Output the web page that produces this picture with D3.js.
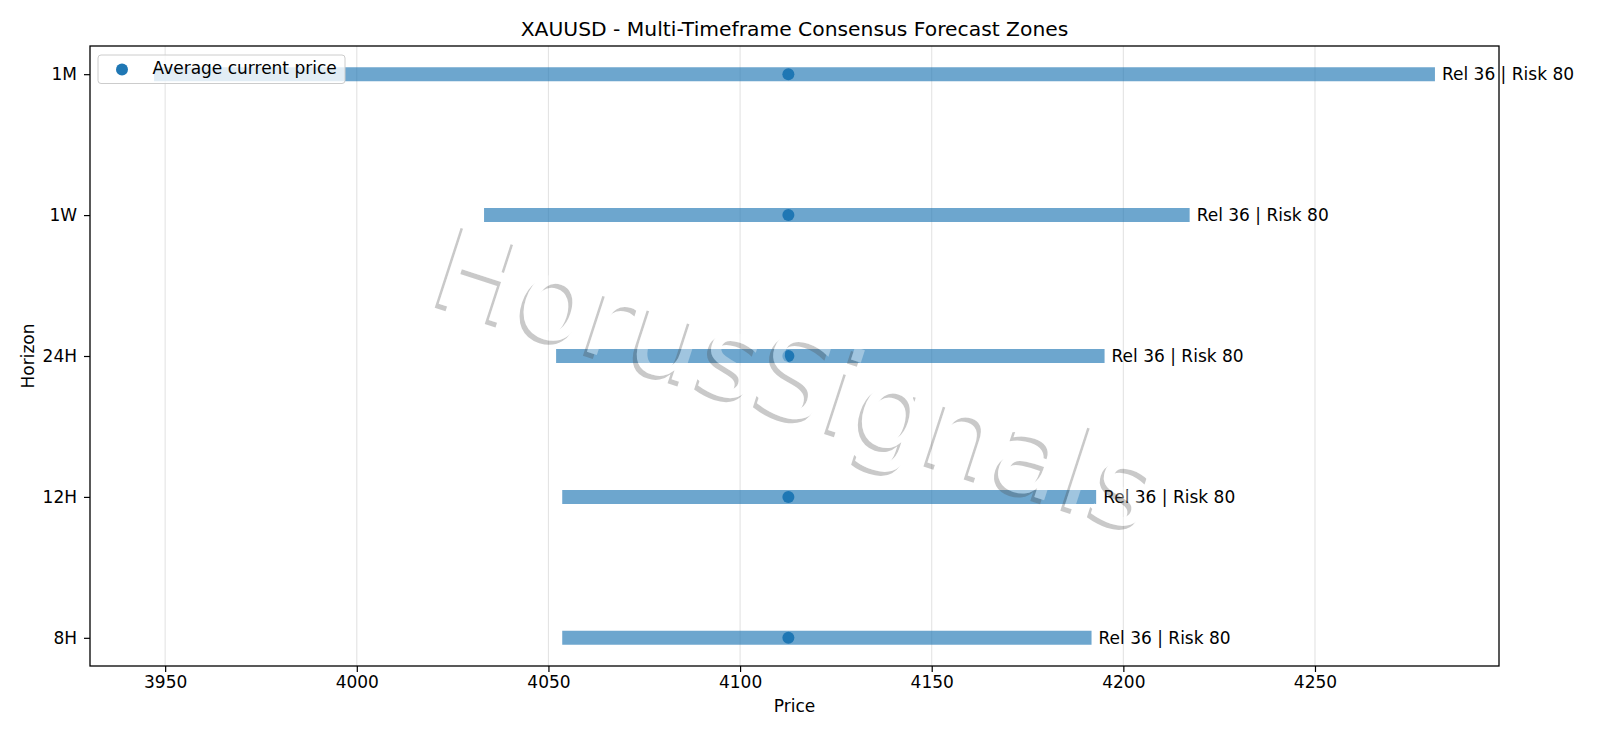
<!DOCTYPE html>
<html>
<head>
<meta charset="utf-8">
<script src="https://cdn.jsdelivr.net/npm/d3@7"></script>
<style>
  body { margin: 0; background: #fff; }
  text { font-family: "DejaVu Sans", sans-serif; }
</style>
</head>
<body>
<div id="chart"></div>
<script>
// Forecast zones per horizon (bottom to top)
const horizons = ["8H", "12H", "24H", "1W", "1M"];
const zoneLow = [4053.6, 4053.6, 4052.0, 4033.2, 3947.1];
const zoneHigh = [4191.7, 4192.9, 4195.1, 4217.3, 4281.3];
const currentPrice = [4112.6, 4112.6, 4112.6, 4112.6, 4112.6];
const reliability = [36, 36, 36, 36, 36];
const risk = [80, 80, 80, 80, 80];
const xTicks = [3950, 4000, 4050, 4100, 4150, 4200, 4250];

const rows = horizons.map((h, i) => ({
  h, low: zoneLow[i], high: zoneHigh[i], cur: currentPrice[i],
  label: `Rel ${reliability[i]} | Risk ${risk[i]}`
}));

// Chart dimensions
const width = 1600;
const height = 738;
const margin = { top: 46, right: 101, bottom: 72, left: 90 };
const chartWidth = width - margin.left - margin.right;
const chartHeight = height - margin.top - margin.bottom;
const blue = "#1f77b4";

const svg = d3.select("#chart")
  .append("svg")
  .attr("width", width)
  .attr("height", height);

// x scale with matplotlib-like 5% margins
const lo = d3.min(zoneLow), hi = d3.max(zoneHigh);
const pad = (hi - lo) * 0.05;
const x = d3.scaleLinear()
  .domain([lo - pad, hi + pad])
  .range([0, chartWidth]);

const y = d3.scalePoint()
  .domain(horizons)
  .range([chartHeight, 0])
  .padding(0.2);

const g = svg.append("g")
  .attr("transform", `translate(${margin.left},${margin.top})`);

// Vertical grid
g.append("g")
  .selectAll("line")
  .data(xTicks)
  .join("line")
  .attr("x1", d => x(d)).attr("x2", d => x(d))
  .attr("y1", 0).attr("y2", chartHeight)
  .attr("stroke", "#b0b0b0")
  .attr("stroke-opacity", 0.35)
  .attr("stroke-width", 1.1);

// Zone bars
g.append("g")
  .selectAll("line")
  .data(rows)
  .join("line")
  .attr("x1", d => x(d.low))
  .attr("x2", d => x(d.high))
  .attr("y1", d => y(d.h))
  .attr("y2", d => y(d.h))
  .attr("stroke", blue)
  .attr("stroke-opacity", 0.65)
  .attr("stroke-width", 14);

// Current price points
g.append("g")
  .selectAll("circle")
  .data(rows)
  .join("circle")
  .attr("cx", d => x(d.cur))
  .attr("cy", d => y(d.h))
  .attr("r", 6)
  .attr("fill", blue);

// Labels at the right end of each zone
g.append("g")
  .selectAll("text")
  .data(rows)
  .join("text")
  .attr("x", d => x(d.high) + 7)
  .attr("y", d => y(d.h))
  .attr("dy", "0.36em")
  .style("font-size", "17px")
  .text(d => d.label);

// Axes
const xAxis = g.append("g")
  .attr("transform", `translate(0,${chartHeight})`)
  .call(d3.axisBottom(x).tickValues(xTicks).tickFormat(d3.format("d"))
    .tickSize(6).tickPadding(3.5));
const yAxis = g.append("g")
  .call(d3.axisLeft(y).tickSize(6).tickPadding(7));
[xAxis, yAxis].forEach(a => {
  a.select(".domain").remove();
  a.selectAll("line").attr("stroke", "#000").attr("stroke-width", 1.2);
  a.selectAll("text").style("font-size", "17px").attr("font-family", "DejaVu Sans").attr("fill", "#000");
});

// Frame
g.append("rect")
  .attr("width", chartWidth)
  .attr("height", chartHeight)
  .attr("fill", "none")
  .attr("stroke", "#000")
  .attr("stroke-width", 1.3);

// Legend
const leg = g.append("g").attr("transform", "translate(8,9)");
leg.append("rect")
  .attr("width", 247).attr("height", 28.5).attr("rx", 3)
  .attr("fill", "#fff").attr("fill-opacity", 0.8)
  .attr("stroke", "#cccccc");
leg.append("circle").attr("cx", 24).attr("cy", 14.5).attr("r", 6).attr("fill", blue);
leg.append("text").attr("x", 54.5).attr("y", 19)
  .style("font-size", "17px").text("Average current price");

// Watermark: grey shadow (only where the white text does not cover it), then white text
const wmText = "HorusSignals";
const wmPos = "translate(797,378) rotate(18)";
const mask = svg.append("defs").append("mask").attr("id", "wm-mask")
  .attr("maskUnits", "userSpaceOnUse")
  .attr("x", 0).attr("y", 0).attr("width", width).attr("height", height);
mask.append("rect").attr("width", width).attr("height", height).attr("fill", "#fff");
mask.append("text")
  .attr("transform", wmPos)
  .attr("text-anchor", "middle")
  .attr("dominant-baseline", "central")
  .style("font-size", "115px")
  .attr("fill", "#000")
  .text(wmText);

svg.append("g")
  .attr("mask", "url(#wm-mask)")
  .append("text")
  .attr("transform", `translate(-4,4) ${wmPos}`)
  .attr("text-anchor", "middle")
  .attr("dominant-baseline", "central")
  .style("font-size", "115px")
  .attr("fill", "#4d4d4d").attr("fill-opacity", 0.3)
  .text(wmText);

svg.append("text")
  .attr("transform", wmPos)
  .attr("text-anchor", "middle")
  .attr("dominant-baseline", "central")
  .style("font-size", "115px")
  .attr("fill", "#fff").attr("fill-opacity", 0.35)
  .text(wmText);

// Titles
svg.append("text")
  .attr("x", margin.left + chartWidth / 2)
  .attr("y", 36)
  .attr("text-anchor", "middle")
  .style("font-size", "20.3px")
  .text("XAUUSD - Multi-Timeframe Consensus Forecast Zones");

svg.append("text")
  .attr("x", margin.left + chartWidth / 2)
  .attr("y", 712)
  .attr("text-anchor", "middle")
  .style("font-size", "17px")
  .text("Price");

svg.append("text")
  .attr("transform", `translate(34,${margin.top + chartHeight / 2}) rotate(-90)`)
  .attr("text-anchor", "middle")
  .style("font-size", "17px")
  .text("Horizon");
</script>
</body>
</html>
